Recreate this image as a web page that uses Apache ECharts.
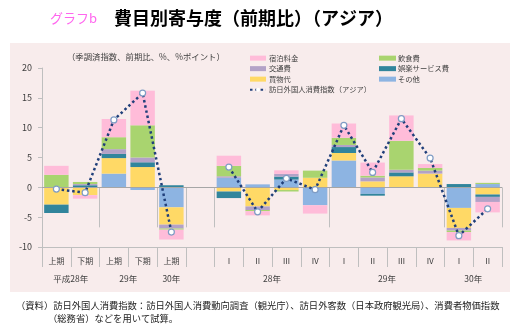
<!DOCTYPE html>
<html><head><meta charset="utf-8">
<script src="https://cdn.jsdelivr.net/npm/echarts@6/dist/echarts.min.js"></script>
<style>html,body{margin:0;padding:0;background:#fff}#c{width:518px;height:331px}</style>
</head><body><div id="c"></div>
<script>
// ---- data ----
var categories = ['上期','下期','上期','下期','上期','','Ⅰ','Ⅱ','Ⅲ','Ⅳ','Ⅰ','Ⅱ','Ⅲ','Ⅳ','Ⅰ','Ⅱ'];
var groupTicks = [0, 2, 4, 5, 6, 10, 14, 16];
var groupLabelPos = [1, 3, 4.5, 8, 12, 15];
var groupLabels = ['平成28年', '29年', '30年', '28年', '29年', '30年'];
var yTicks = [-10, -5, 0, 5, 10, 15, 20];

var sonota   = [0, 0, 2.3, -0.45, -3.35, null, 1.6, 0.5, 1.3, -3.0, 4.5, -1.1, 0, 0, -3.45, 0.55];
var kaimono  = [-2.9, -1.3, 2.6, 3.4, -2.9, null, -0.7, -3.2, -0.45, 1.6, 1.25, 1.0, 1.85, 2.3, -3.35, -1.2];
var goraku   = [-1.4, 0.35, 0.7, 0.8, 0.35, null, -1.1, 0, 0.5, 0, 1.0, -0.3, 0.65, 0, 0.55, -0.4];
var koutsu   = [0, 0.2, 0.8, 0.8, -0.65, null, 0.25, -0.6, 0.45, 0, 0.35, 0.65, 0.45, 0.5, -0.45, -0.85];
var inshoku  = [2.1, 0.35, 2.0, 5.4, -0.2, null, 1.75, -0.2, -0.25, 1.2, 1.2, 0.3, 4.85, 0.45, -0.25, 0.2];
var shukuhaku= [1.5, -0.6, 3.05, 5.8, -1.65, null, 1.7, -0.7, 0.6, -1.4, 2.4, 2.2, 4.25, 0.65, -1.4, -1.75];
var shohiIndex = [-0.3, -0.9, 11.3, 15.8, -7.5, null, 3.4, -4.1, 1.5, -0.4, 10.4, 2.5, 11.5, 4.9, -8.1, -3.6];

// ---- chart ----
var FONT = '"Noto Sans CJK JP", "Noto Sans", sans-serif';
var chart = echarts.init(document.getElementById('c'), null, {renderer: 'canvas'});

function barSeries(name, data, color) {
  return {
    name: name, type: 'bar', stack: 'total', data: data,
    xAxisIndex: 0, yAxisIndex: 0,
    barCategoryGap: '15%',
    itemStyle: {color: color},
    emphasis: {disabled: true}
  };
}

var series = [
  barSeries('その他', sonota, '#8db4e2'),
  barSeries('買物代', kaimono, '#ffd966'),
  barSeries('娯楽サービス費', goraku, '#31859c'),
  barSeries('交通費', koutsu, '#b3a2c7'),
  barSeries('飲食費', inshoku, '#a9d46f'),
  barSeries('宿泊料金', shukuhaku, '#ffbcd9'),
  {
    name: '訪日外国人消費指数（アジア）', type: 'line', data: shohiIndex,
    xAxisIndex: 0, yAxisIndex: 0, connectNulls: false, z: 5,
    symbol: 'circle', symbolSize: 6,
    itemStyle: {color: '#ffffff', borderColor: '#7f9cc4', borderWidth: 1.2},
    lineStyle: {color: '#203f7a', width: 2.5, type: [2.5, 2.8], cap: 'butt'},
    emphasis: {disabled: true}
  }
];
series[0].markLine = {
  silent: true, symbol: 'none', label: {show: false},
  lineStyle: {color: '#a6a6a6', width: 1, type: 'solid'},
  data: [{yAxis: 0}]
};

chart.setOption({
  animation: false,
  backgroundColor: '#ffffff',
  textStyle: {fontFamily: FONT},
  graphic: [
    {type: 'rect', z: -10, silent: true, shape: {x: 10, y: 43, width: 500, height: 249}, style: {fill: '#f8ecec'}},
    {type: 'text', x: 50, y: 18, silent: true, style: {text: 'グラフb', fill: '#ff66ee', font: '13px ' + FONT, verticalAlign: 'middle'}},
    {type: 'text', x: 114, y: 18, silent: true, style: {text: '費目別寄与度（前期比）（アジア）', fill: '#000000', font: 'bold 18px ' + FONT, verticalAlign: 'middle'}},
    {type: 'text', x: 67, y: 57, silent: true, style: {text: '（季調済指数、前期比、%、%ポイント）', fill: '#404040', font: '8.4px ' + FONT, verticalAlign: 'middle'}},
    {type: 'text', x: 16, y: 305, silent: true, style: {text: '（資料）訪日外国人消費指数：訪日外国人消費動向調査（観光庁）、訪日外客数（日本政府観光局）、消費者物価指数', fill: '#222222', font: '9.3px ' + FONT, verticalAlign: 'middle'}},
    {type: 'text', x: 48, y: 318, silent: true, style: {text: '（総務省）などを用いて試算。', fill: '#222222', font: '9.3px ' + FONT, verticalAlign: 'middle'}}
  ],
  legend: [
    {
      orient: 'vertical', left: 249, top: 54.5, padding: 0, itemGap: 3.2,
      itemWidth: 16, itemHeight: 5, itemStyle: {borderWidth: 0},
      textStyle: {fontSize: 7.3, color: '#404040', fontFamily: FONT, padding: [0, 0, 0, -2]},
      selectedMode: false,
      data: [{name: '宿泊料金', icon: 'rect'}, {name: '交通費', icon: 'rect'}, {name: '買物代', icon: 'rect'}, {name: '訪日外国人消費指数（アジア）'}]
    },
    {
      orient: 'vertical', left: 379, top: 54.5, padding: 0, itemGap: 3.2,
      itemWidth: 17, itemHeight: 5,
      textStyle: {fontSize: 7.3, color: '#404040', fontFamily: FONT, padding: [0, 0, 0, -3]},
      selectedMode: false,
      data: [{name: '飲食費', icon: 'rect'}, {name: '娯楽サービス費', icon: 'rect'}, {name: 'その他', icon: 'rect'}]
    }
  ],
  grid: {left: 42, right: 16, top: 68, bottom: 84, containLabel: false, outerBoundsMode: 'none'},
  xAxis: [
    {
      type: 'category', data: categories, position: 'bottom',
      axisLine: {show: true, onZero: false, lineStyle: {color: '#bfbfbf', width: 1}},
      axisTick: {show: true, interval: 0, length: 20, lineStyle: {color: '#bfbfbf'}},
      axisLabel: {interval: 0, margin: 10, fontSize: 8, color: '#404040', fontFamily: FONT},
      splitLine: {show: false}
    },
    {
      type: 'value', min: 0, max: 16, position: 'bottom',
      axisLine: {show: false},
      axisTick: {show: true, length: 40, customValues: groupTicks, lineStyle: {color: '#bfbfbf'}},
      axisLabel: {
        show: true, margin: 28, fontSize: 8.5, color: '#404040', fontFamily: FONT,
        customValues: groupLabelPos,
        formatter: function (v) {
          for (var i = 0; i < groupLabelPos.length; i++) { if (Math.abs(groupLabelPos[i] - v) < 1e-6) return groupLabels[i]; }
          return '';
        }
      },
      splitLine: {show: false}
    }
  ],
  yAxis: {
    type: 'value', min: -10, max: 20, interval: 5,
    axisLine: {show: true, lineStyle: {color: '#bfbfbf'}},
    axisTick: {show: true, length: 4, lineStyle: {color: '#bfbfbf'}},
    axisLabel: {margin: 10, fontSize: 9, color: '#404040', fontFamily: FONT,
      formatter: function (v) { return yTicks.indexOf(v) >= 0 ? String(v) : ''; }},
    splitLine: {show: false}
  },
  series: series
});
</script></body></html>
